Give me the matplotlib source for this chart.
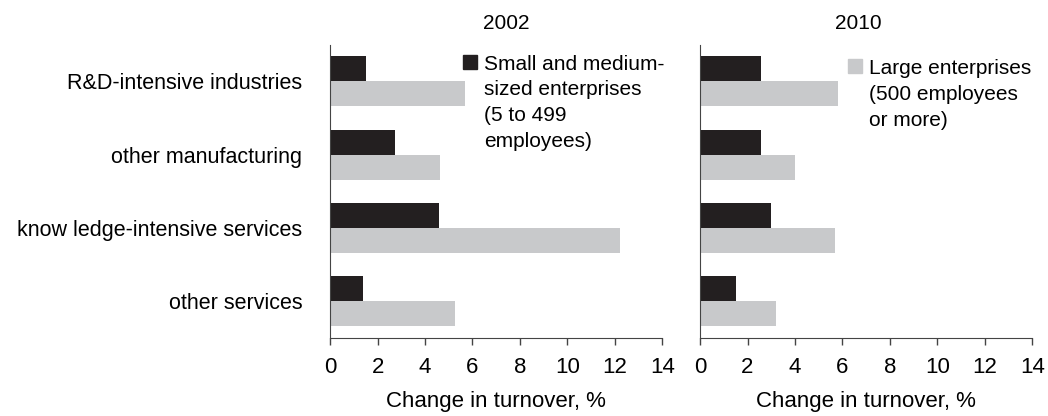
import numpy as np
import matplotlib.pyplot as plt
from matplotlib.patches import Patch

plt.rcParams['font.family'] = ['Liberation Sans', 'DejaVu Sans']

categories = ['R&D-intensive industries', 'other manufacturing',
              'know ledge-intensive services', 'other services']
years = ['2002', '2010']
sme = {'2002': [1.5, 2.75, 4.6, 1.4],
       '2010': [2.55, 2.55, 3.0, 1.5]}
large = {'2002': [5.7, 4.65, 12.2, 5.25],
         '2010': [5.8, 4.0, 5.7, 3.2]}
legend_labels = ['Small and medium-\nsized enterprises\n(5 to 499\nemployees)',
                 'Large enterprises\n(500 employees\nor more)']
xticks = [0, 2, 4, 6, 8, 10, 12, 14]

c_dark = '#231f20'
c_light = '#c8c9cb'
h = 0.34

fig = plt.figure(figsize=(10.48, 4.16), dpi=100)
ax1 = fig.add_axes([0.315, 0.1875, 0.317, 0.705])
ax2 = fig.add_axes([0.668, 0.1875, 0.317, 0.705])

pos = np.arange(len(categories)) + 0.5
for ax, yr in zip([ax1, ax2], years):
    ax.barh(pos - h / 2, sme[yr], height=h, color=c_dark, label=legend_labels[0])
    ax.barh(pos + h / 2, large[yr], height=h, color=c_light, label=legend_labels[1])
    ax.set_ylim(len(categories), 0)
    ax.set_xlim(0, 14)
    ax.set_xticks(xticks)
    ax.tick_params(axis='x', direction='out', length=5, width=1, labelsize=16, pad=9,
                   color='#444444')
    ax.tick_params(axis='y', length=0)
    for s in ['top', 'right']:
        ax.spines[s].set_visible(False)
    ax.spines['left'].set_color('#444444')
    ax.spines['bottom'].set_color('#444444')
    ax.set_xlabel('Change in turnover, %', fontsize=16, labelpad=9)

ax1.set_title(years[0], fontsize=15, pad=11, x=0.53)
ax2.set_title(years[1], fontsize=15, pad=11, x=0.475)

ax1.set_yticks(pos)
ax1.set_yticklabels(categories, fontsize=15.5)
ax1.tick_params(axis='y', pad=20)
ax2.set_yticks([])

legs = []
legs.append(ax1.legend(handles=[Patch(color=c_dark)], labels=[legend_labels[0]],
                       loc='upper left', bbox_to_anchor=(0.345, 1.03), frameon=False,
                       fontsize=15, handlelength=0.65, handleheight=0.65,
                       handletextpad=0.35, labelspacing=0.3))
legs.append(ax2.legend(handles=[Patch(color=c_light)], labels=[legend_labels[1]],
                       loc='upper left', bbox_to_anchor=(0.39, 1.015), frameon=False,
                       fontsize=15, handlelength=0.65, handleheight=0.65,
                       handletextpad=0.35, labelspacing=0.3))
# put the square next to the first line of the label, open up the line spacing
for leg in legs:
    for t in leg.get_texts():
        t.set_linespacing(1.45)
    for col in leg._legend_handle_box.get_children():
        for item in col.get_children():
            item.align = 'top'

fig.savefig('out.png', dpi=100)
